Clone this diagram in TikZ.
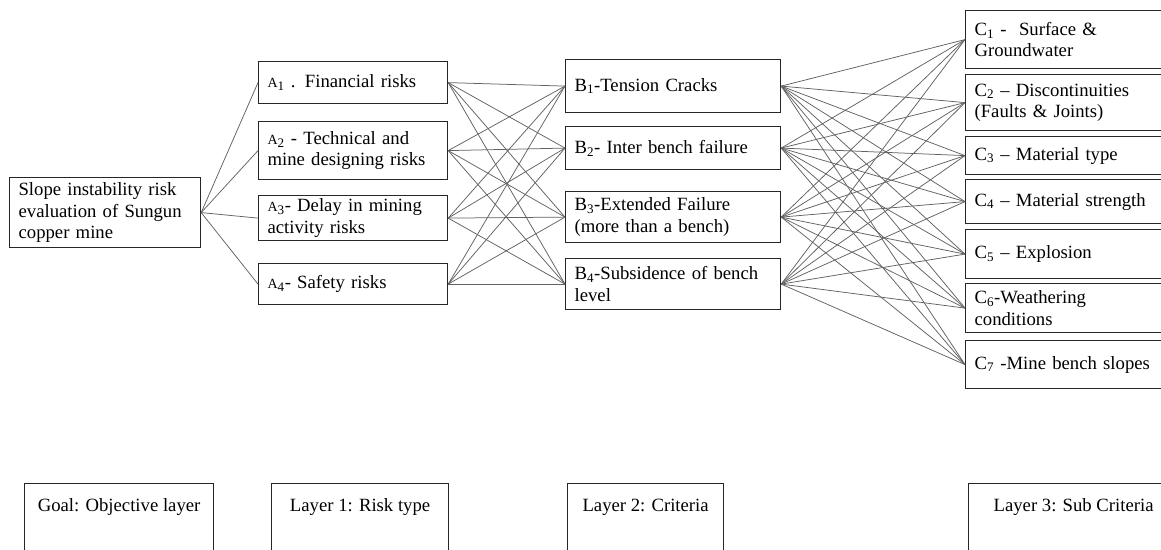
\documentclass[tikz,border=0pt]{standalone}
\usepackage{fontspec}
\setmainfont{Liberation Serif}
\newcommand\mainfs{\fontsize{18.7}{21.5}\selectfont}
\newcommand\smA{{\fontsize{14}{14}\selectfont A}}
\begin{document}
\begin{tikzpicture}[x=1pt,y=-1pt,
  box/.style={draw=black!85, line width=1.2pt, rectangle, anchor=north west,
    align=left, inner xsep=9pt, inner ysep=0pt, font=\mainfs},
  lbox/.style={draw=black!85, line width=1.2pt, rectangle, anchor=north west,
    inner sep=0pt, minimum height=90pt},
  ltext/.style={font=\mainfs, inner sep=0pt},
  conn/.style={draw=black!62, line width=0.75pt}]
\useasboundingbox (0,0) rectangle (1161,549);
\clip (0,0) rectangle (1161,549);

% Goal
\node[box, minimum width=191pt, minimum height=70pt, text width=173pt] (G) at (9,177)
  {Slope instability risk\\evaluation of Sungun\\copper mine};

% Layer 1
\node[box, minimum width=189pt, minimum height=42pt, text width=171pt] (A1) at (258,61)
  {\smA\textsubscript{1} . Financial risks};
\node[box, minimum width=189pt, minimum height=58pt, text width=171pt] (A2) at (258,121)
  {\smA\textsubscript{2} - Technical and\\mine designing risks};
\node[box, minimum width=189pt, minimum height=45pt, text width=171pt] (A3) at (258,195)
  {\smA\textsubscript{3}- Delay in mining\\activity risks};
\node[box, minimum width=189pt, minimum height=41pt, text width=171pt] (A4) at (258,263)
  {\smA\textsubscript{4}- Safety risks};

% Layer 2
\node[box, minimum width=215pt, minimum height=53pt, text width=197pt] (B1) at (565,59)
  {B\textsubscript{1}-Tension Cracks};
\node[box, minimum width=215pt, minimum height=43pt, text width=197pt] (B2) at (565,126)
  {B\textsubscript{2}- Inter bench failure};
\node[box, minimum width=215pt, minimum height=51pt, text width=197pt] (B3) at (565,191)
  {B\textsubscript{3}-Extended Failure\\(more than a bench)};
\node[box, minimum width=215pt, minimum height=51pt, text width=197pt] (B4) at (565,258)
  {B\textsubscript{4}-Subsidence of bench\\level};

% Layer 3
\node[box, minimum width=215pt, minimum height=58pt, text width=197pt] (C1) at (965,10)
  {C\textsubscript{1} -\ \ Surface \&\\Groundwater};
\node[box, minimum width=215pt, minimum height=56pt, text width=197pt] (C2) at (965,74)
  {C\textsubscript{2} -- Discontinuities\\(Faults \& Joints)};
\node[box, minimum width=215pt, minimum height=38pt, text width=197pt] (C3) at (965,136)
  {C\textsubscript{3} -- Material type};
\node[box, minimum width=215pt, minimum height=44pt, text width=197pt] (C4) at (965,179)
  {C\textsubscript{4} -- Material strength};
\node[box, minimum width=215pt, minimum height=49pt, text width=197pt] (C5) at (965,229)
  {C\textsubscript{5} -- Explosion};
\node[box, minimum width=215pt, minimum height=49pt, text width=197pt] (C6) at (965,283)
  {C\textsubscript{6}-Weathering\\conditions};
\node[box, minimum width=215pt, minimum height=48pt, text width=197pt] (C7) at (965,340)
  {C\textsubscript{7} -Mine bench slopes};

% connectors
\foreach \a in {A1,A2,A3,A4} \draw[conn] (G.east) -- (\a.west);
\foreach \a in {A1,A2,A3,A4} \foreach \b in {B1,B2,B3,B4} \draw[conn] (\a.east) -- (\b.west);
\foreach \b in {B1,B2,B3,B4} \foreach \c in {C1,C2,C3,C4,C5,C6,C7} \draw[conn] (\b.east) -- (\c.west);

% layer legend boxes
\node[lbox, minimum width=189pt] (L0) at (24,483) {};
\node[lbox, minimum width=177pt] (L1) at (271,483) {};
\node[lbox, minimum width=156pt] (L2) at (567,483) {};
\node[lbox, minimum width=210pt] (L3) at (968,483) {};
\node[ltext] (T0) at ([yshift=-24pt]L0.north) {Goal: Objective layer};
\node[ltext] (T1) at ([yshift=-24pt]L1.north) {Layer 1: Risk type};
\node[ltext] (T2) at ([yshift=-24pt]L2.north) {Layer 2: Criteria};
\node[ltext] (T3) at ([yshift=-24pt]L3.north) {Layer 3: Sub Criteria};
\end{tikzpicture}
\end{document}
